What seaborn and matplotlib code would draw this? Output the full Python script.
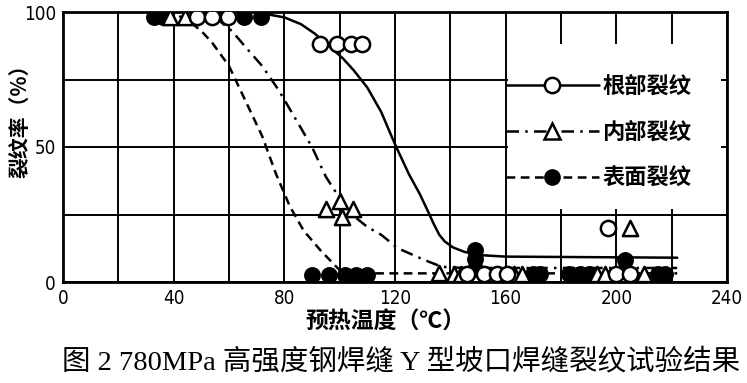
import matplotlib
matplotlib.use("Agg")
import matplotlib.pyplot as plt
from matplotlib.lines import Line2D
from matplotlib.patches import Rectangle
import seaborn as sns
import numpy as np

# ---------------- data ----------------
# measured points: root cracks (open circles)
root_x = [48.5, 54, 59.5, 93, 99, 104, 108, 146, 152, 157, 160.5, 200, 205, 197]
root_y = [98, 98, 98, 88, 88, 88, 88, 3, 3, 3, 3, 3, 3, 20]
# inner cracks (open triangles)
inner_x = [38.5, 44, 95, 100, 101, 105, 136, 141.5, 144, 163, 166, 193, 196, 210, 205]
inner_y = [98, 98, 27, 30, 24, 27, 3.5, 3, 3, 3, 3, 3, 3, 3, 20]
# surface cracks (filled circles)
surf_x = [33, 36, 65.5, 71.5, 90, 96, 102, 106, 110, 149, 149, 149, 170, 172.5,
          183, 187, 190, 203, 215, 217.5]
surf_y = [98, 98, 98, 98, 2.5, 2.5, 2.5, 2.5, 2.5, 12, 8.5, 5, 3, 3,
          3, 3, 3, 8, 3, 3]

# fitted curves, points
root_curve_x = [72, 80, 86, 91, 96, 101, 105, 110, 115, 120, 125, 129, 132, 134, 136, 138,
                141, 145, 150, 160, 222]
root_curve_y = [99.5, 98, 95.5, 92, 87.5, 83, 78.5, 72, 63, 51, 40, 32.5, 26, 21.5, 17.5, 15,
                12.8, 11.2, 10, 9.4, 9]
inner_curve_x = [55, 61, 66, 72, 78, 86, 90, 95, 100, 105, 110, 115, 121, 131, 137, 145, 222]
inner_curve_y = [98, 93, 87, 80, 71, 57, 50, 39, 31, 24.5, 20.4, 17.5, 12.5, 8, 5.6, 5.2, 5.2]
surf_curve_x = [42, 45, 50, 54, 60, 66, 72, 77, 82, 87, 93, 97.5, 100, 104, 222]
surf_curve_y = [98.5, 97, 93, 88.5, 80, 67, 54, 40, 28, 19, 11.8, 7, 4.4, 3.2, 3.2]

labels = ["根部裂纹", "内部裂纹", "表面裂纹"]
x_ticks = [0, 40, 80, 120, 160, 200, 240]
y_ticks = [0, 50, 100]

# ---------------- style ----------------
sns.set_theme(style="white")
plt.rcParams["font.family"] = ["Noto Sans CJK SC", "DejaVu Sans"]

fig = plt.figure(figsize=(7.47, 3.83), dpi=100)
ax = fig.add_axes([63 / 747, 1 - 282 / 383, (727 - 63) / 747, (282 - 12) / 383])

ax.set_xlim(0, 240)
ax.set_ylim(0, 100)
ax.set_xticks(x_ticks)
ax.set_xticks([20, 60, 100, 140, 180, 220], minor=True)
ax.set_yticks(y_ticks)
ax.set_yticks([25, 75], minor=True)
ax.set_axisbelow(True)
ax.grid(True, which="both", color="black", linewidth=1.4)
ax.tick_params(which="both", length=0, pad=5)
for lab in ax.get_xticklabels() + ax.get_yticklabels():
    lab.set_family("DejaVu Sans")
    lab.set_stretch("condensed")
    lab.set_fontsize(13.5)
    lab.set_color("black")
for sp in ax.spines.values():
    sp.set_visible(True)
    sp.set_color("black")
    sp.set_linewidth(2)

# white region behind the legend (grid interrupted)
ax.add_patch(Rectangle((161, 27), 77, 61, facecolor="white", edgecolor="none", zorder=1))

dash_style = (0, (3.5, 2.2))
dashdot_style = (0, (5, 2.5, 1, 2.5))
lw = 1.8

sns.lineplot(x=root_curve_x, y=root_curve_y, ax=ax, color="black", linewidth=lw,
             sort=False, estimator=None, zorder=2)
sns.lineplot(x=inner_curve_x, y=inner_curve_y, ax=ax, color="black", linewidth=lw,
             linestyle=dashdot_style, sort=False, estimator=None, zorder=2)
sns.lineplot(x=surf_curve_x, y=surf_curve_y, ax=ax, color="black", linewidth=lw,
             linestyle=dash_style, sort=False, estimator=None, zorder=2)

ms = 120
sns.scatterplot(x=surf_x, y=surf_y, ax=ax, marker="o", s=ms, color="black",
                edgecolor="black", linewidth=1.2, zorder=3)
sns.scatterplot(x=inner_x, y=inner_y, ax=ax, marker="^", s=ms, color="white",
                edgecolor="black", linewidth=1.8, zorder=4)
sns.scatterplot(x=root_x, y=root_y, ax=ax, marker="o", s=ms, color="white",
                edgecolor="black", linewidth=1.8, zorder=4)

ax.set_xlabel("预热温度（℃）", fontsize=16.5, fontweight="bold", color="black")
ax.set_ylabel("裂纹率（%）", fontsize=15, fontweight="bold", color="black")
ax.xaxis.set_label_coords(0.486, -0.15)
ax.yaxis.set_label_coords(-0.065, 0.615)
ax.xaxis.label.set_va("center")
ax.yaxis.label.set_va("center")

handles = [
    Line2D([], [], color="black", lw=lw, marker="o", markersize=11,
           markerfacecolor="white", markeredgecolor="black", markeredgewidth=1.8),
    Line2D([], [], color="black", lw=lw, linestyle=dashdot_style, marker="^", markersize=11,
           markerfacecolor="white", markeredgecolor="black", markeredgewidth=1.8),
    Line2D([], [], color="black", lw=lw, linestyle=dash_style, marker="o", markersize=11,
           markerfacecolor="black", markeredgecolor="black"),
]
leg = ax.legend(handles, labels, loc="center left", bbox_to_anchor=(160, 55.5),
                bbox_transform=ax.transData, frameon=False, handlelength=4.2,
                handletextpad=0.15, labelspacing=1.05, borderpad=0, borderaxespad=0,
                prop={"family": ["Noto Sans CJK SC", "DejaVu Sans"], "size": 16, "weight": "bold"})
for t in leg.get_texts():
    t.set_color("black")

fig.text(0.537, 1 - 362 / 383, "图 2 780MPa 高强度钢焊缝 Y 型坡口焊缝裂纹试验结果",
         ha="center", va="center", fontsize=20.5, color="black",
         family=["Liberation Serif", "Noto Sans CJK SC"])

fig.savefig("out.png", dpi=100, facecolor="white")
